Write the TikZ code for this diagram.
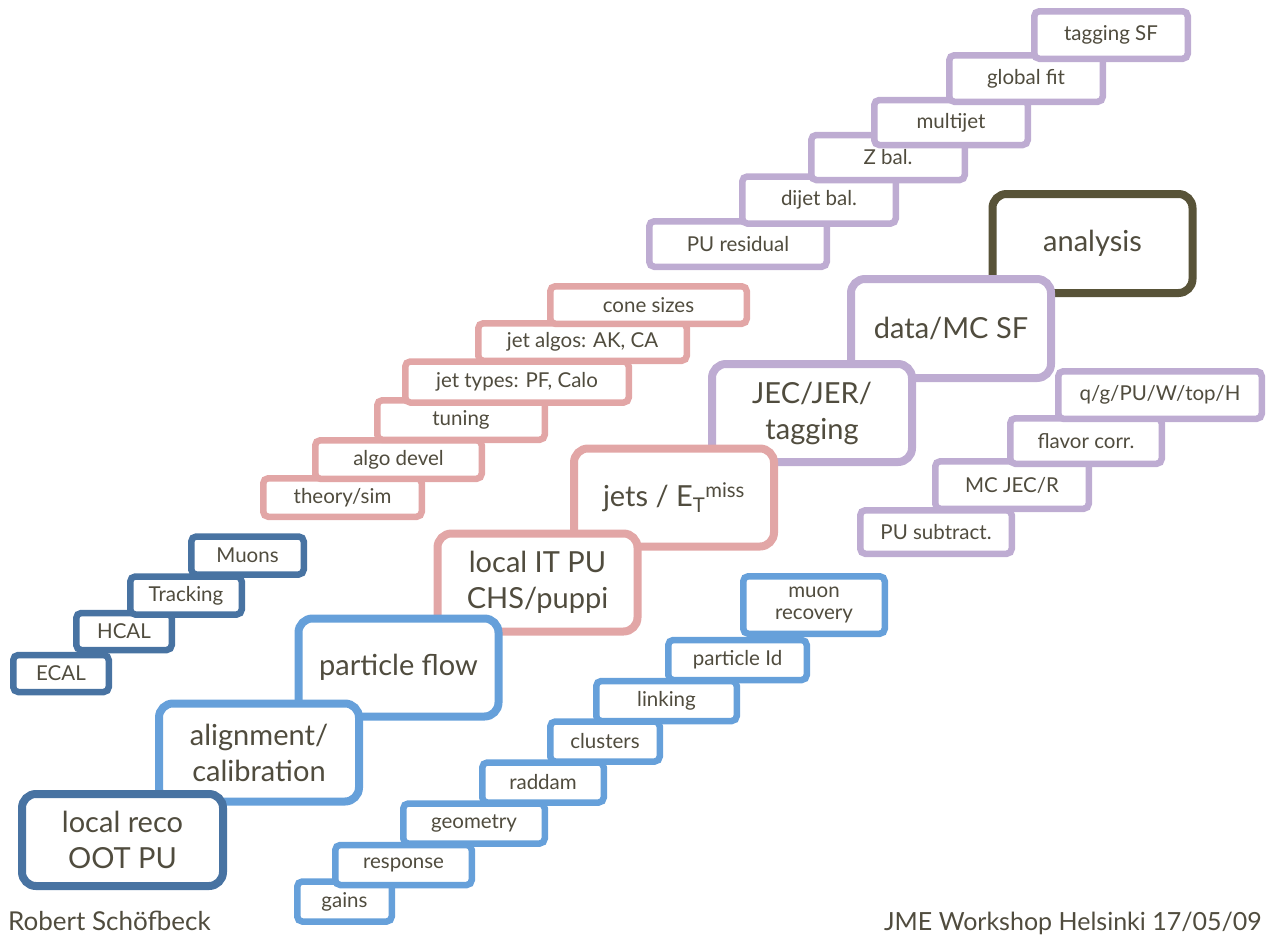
\documentclass[tikz,border=0pt]{standalone}
\usepackage{fontspec}
\setmainfont{Lato}
\usetikzlibrary{shadows}
\definecolor{recoblue}{RGB}{72,115,162}
\definecolor{pfblue}{RGB}{102,160,218}
\definecolor{jetpink}{RGB}{226,166,166}
\definecolor{jecpurple}{RGB}{190,172,210}
\definecolor{anaolive}{RGB}{88,83,56}
\definecolor{txtgray}{RGB}{80,76,62}
\begin{document}
\begin{tikzpicture}[x=1pt,y=-1pt,
  box/.style={draw=#1, fill=white, line width=6.5pt, rounded corners=5pt,
    inner sep=0pt, text=txtgray, font=\fontsize{20.5}{25}\selectfont,
    minimum height=40pt, align=center,
    drop shadow={shadow xshift=1.5pt, shadow yshift=-1.5pt, opacity=0.18}},
  bigbox/.style={draw=#1, fill=white, line width=8pt, rounded corners=14pt,
    inner sep=0pt, text=txtgray, font=\fontsize{29}{36}\selectfont,
    minimum width=200pt, minimum height=98pt, align=center,
    drop shadow={shadow xshift=2pt, shadow yshift=-2pt, opacity=0.18}}]
  \useasboundingbox (0,0) rectangle (1269,937);

  % detector
  \node[box=recoblue, minimum width=95.5pt, minimum height=37pt] (ecal) at (61,673.5) {ECAL};
  \node[box=recoblue, minimum width=95.5pt, minimum height=37pt] (hcal) at (124,631.5) {HCAL};
  \node[box=recoblue, minimum width=111.5pt, minimum height=38pt] (tracking) at (186,595.5) {Tracking};
  \node[box=recoblue, minimum width=112.5pt, minimum height=38pt] (muons) at (247.5,555.5) {Muons};

  % particle flow inputs
  \node[box=pfblue, minimum width=94.5pt] (gains) at (344.5,901.5) {gains};
  \node[box=pfblue, minimum width=136.5pt] (response) at (403.5,865) {response};
  \node[box=pfblue, minimum width=141.5pt] (geometry) at (474,823.5) {geometry};
  \node[box=pfblue, minimum width=121.5pt] (raddam) at (543,782.5) {raddam};
  \node[box=pfblue, minimum width=109.5pt] (clusters) at (605,741.5) {clusters};
  \node[box=pfblue, minimum width=140.5pt] (linking) at (666.5,701) {linking};
  \node[box=pfblue, minimum width=138.5pt] (pid) at (737.5,660) {particle Id};
  \node[box=pfblue, minimum width=141.5pt, minimum height=57.5pt] (muonrec) at (814,605) {muon\\[-3pt]recovery};

  % jet reconstruction
  \node[box=jetpink, minimum width=158.5pt, minimum height=38.5pt] (theory) at (342.5,497.5) {theory/sim};
  \node[box=jetpink, minimum width=166.5pt, minimum height=38.5pt] (algodev) at (398.5,459.5) {algo devel};
  \node[box=jetpink, minimum width=167.5pt, minimum height=39.5pt] (tuning) at (461,420) {tuning};
  \node[box=jetpink, minimum width=223.5pt, minimum height=41pt] (jettypes) at (517,382) {jet types: PF, Calo};
  \node[box=jetpink, minimum width=208.5pt, minimum height=37.5pt] (jetalgos) at (582.5,342) {jet algos: AK, CA};
  \node[box=jetpink, minimum width=196.5pt, minimum height=37.5pt] (cones) at (648.5,305) {cone sizes};

  % calibration steps
  \node[box=jecpurple, minimum width=177.5pt, minimum height=45.5pt] (pures) at (738,244) {PU residual};
  \node[box=jecpurple, minimum width=153.5pt, minimum height=47pt] (dijet) at (819,200) {dijet bal.};
  \node[box=jecpurple, minimum width=153.5pt, minimum height=45pt] (zbal) at (888,157.5) {Z bal.};
  \node[box=jecpurple, minimum width=153.5pt, minimum height=45pt] (multijet) at (951,122.5) {multijet};
  \node[box=jecpurple, minimum width=153.5pt, minimum height=46.5pt] (globfit) at (1026,78.5) {global fit};
  \node[box=jecpurple, minimum width=153.5pt, minimum height=47.5pt] (tagsf) at (1111,35) {tagging SF};

  \node[box=jecpurple, minimum width=151.5pt, minimum height=43.5pt] (pusub) at (936,532) {PU subtract.};
  \node[box=jecpurple, minimum width=153.5pt, minimum height=47.5pt] (mcjec) at (1012,485) {MC JEC/R};
  \node[box=jecpurple, minimum width=151.5pt, minimum height=45.5pt] (flavor) at (1086,441) {flavor corr.};
  \node[box=jecpurple, minimum width=203.5pt, minimum height=47.5pt] (qgtag) at (1160,395) {q/g/PU/W/top/H};

  % main chain
  \node[bigbox=anaolive, minimum height=99pt] (analysis) at (1092.5,243.5) {analysis};
  \node[bigbox=jecpurple, minimum height=99pt] (datamc) at (951,328.5) {data/MC SF};
  \node[bigbox=jecpurple] (jec) at (812,413) {JEC/JER/\\tagging};
  \node[bigbox=jetpink] (jets) at (674,497.5) {jets / E\textsubscript{T}\textsuperscript{miss}};
  \node[bigbox=jetpink] (localit) at (537.5,582.5) {local IT PU\\CHS/puppi};
  \node[bigbox=pfblue] (pflow) at (398.5,667.5) {particle flow};
  \node[bigbox=pfblue] (align) at (259,752.5) {alignment/\\calibration};
  \node[bigbox=recoblue, minimum width=201pt, minimum height=92pt] (localreco) at (122.5,840) {local reco\\OOT PU};

  \node[anchor=base west, inner sep=0pt, text=txtgray, font=\fontsize{26}{30}\selectfont] (author) at (8,930) {Robert Schöfbeck};
  \node[anchor=base east, inner sep=0pt, text=txtgray, font=\fontsize{25}{30}\selectfont] (event) at (1262,930) {JME Workshop Helsinki 17/05/09};
\end{tikzpicture}
\end{document}
